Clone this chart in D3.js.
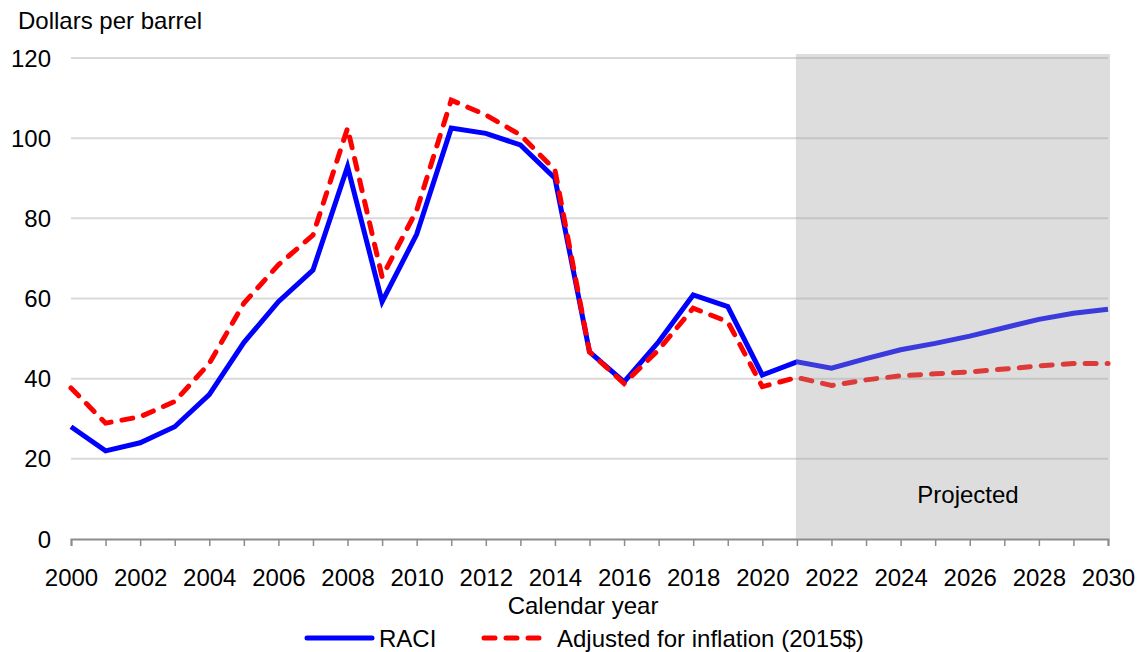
<!DOCTYPE html>
<html>
<head>
<meta charset="utf-8">
<script src="https://cdn.jsdelivr.net/npm/d3@7"></script>
<style>
  body { margin: 0; background: #fff; }
  text { font-family: "Liberation Sans", Arial, sans-serif; fill: #000; }
</style>
</head>
<body>
<div id="chart"></div>
<script>
// years 2000..2030
const years = d3.range(2000, 2031);
const raci = [28, 22, 24, 28, 36, 49, 59.2, 67.1, 92.9, 59.2, 76,
  102.5, 101.2, 98.3, 90, 46.7, 39.2, 49.2, 60.9, 58, 40.9,
  44.2, 42.6, 45, 47.2, 48.8, 50.6, 52.7, 54.8, 56.3, 57.3];
const adjusted = [37.7, 28.9, 30.5, 34.3, 43.8, 58.8, 68.4, 75.8, 102.5, 65.4, 82,
  109.5, 105.8, 100.8, 92.1, 46.7, 38.8, 47.2, 57.6, 54.2, 38,
  40.3, 38.3, 39.7, 40.7, 41.2, 41.7, 42.4, 43.2, 43.8, 43.8];
const yTicks = [0, 20, 40, 60, 80, 100, 120];
const projStart = 2021;

const width = 1137, height = 652;
const margin = { top: 58, right: 29, bottom: 113, left: 71 };
const fs = "24px";

const svg = d3.select("#chart").append("svg")
  .attr("width", width)
  .attr("height", height);

const x = d3.scaleLinear().domain([2000, 2030]).range([margin.left, width - margin.right]);
const y = d3.scaleLinear().domain([0, 120]).range([height - margin.bottom, margin.top]);

// gridlines
svg.append("g")
  .selectAll("line")
  .data(yTicks.filter(d => d > 0))
  .join("line")
  .attr("x1", x(2000)).attr("x2", x(2030))
  .attr("y1", d => y(d)).attr("y2", d => y(d))
  .attr("stroke", "#d9d9d9")
  .attr("stroke-width", 2);

// y tick labels
svg.append("g")
  .selectAll("text")
  .data(yTicks)
  .join("text")
  .attr("x", 51)
  .attr("y", d => y(d))
  .attr("dy", "0.36em")
  .attr("text-anchor", "end")
  .style("font-size", fs)
  .text(d => d);

svg.append("text")
  .attr("x", 18).attr("y", 29)
  .style("font-size", fs)
  .text("Dollars per barrel");

// x axis
const xAxis = d3.axisBottom(x)
  .tickValues(years)
  .tickSize(7)
  .tickFormat(d => (d % 2 === 0 ? d : ""));

const gx = svg.append("g")
  .attr("transform", `translate(0,${y(0)})`)
  .call(xAxis);
gx.select(".domain").attr("stroke", "#8c8c8c").attr("stroke-width", 2);
gx.selectAll(".tick line").attr("stroke", "#8c8c8c").attr("stroke-width", 1.5);
gx.selectAll(".tick text")
  .attr("y", 30)
  .style("font-size", fs)
  .style("font-family", "Liberation Sans, Arial, sans-serif")
  .attr("fill", "#000");

svg.append("text")
  .attr("x", 583).attr("y", 614)
  .attr("text-anchor", "middle")
  .style("font-size", fs)
  .text("Calendar year");

// lines
const line = d3.line()
  .x((d, i) => x(years[i]))
  .y(d => y(d));

svg.append("path")
  .datum(raci)
  .attr("fill", "none")
  .attr("stroke", "#0000ff")
  .attr("stroke-width", 5)
  .attr("d", line);

svg.append("path")
  .datum(adjusted)
  .attr("fill", "none")
  .attr("stroke", "#ff0000")
  .attr("stroke-width", 5)
  .attr("stroke-dasharray", "11,11")
  .attr("stroke-linecap", "round")
  .attr("d", line);

// projected shading drawn on top
svg.append("rect")
  .attr("x", x(projStart) - 1)
  .attr("y", margin.top - 4)
  .attr("width", x(2030) - x(projStart) + 3)
  .attr("height", y(0) - margin.top + 4)
  .attr("fill", "rgb(162,162,162)")
  .attr("fill-opacity", 0.36);

svg.append("text")
  .attr("x", 968).attr("y", 503)
  .attr("text-anchor", "middle")
  .style("font-size", fs)
  .text("Projected");

// legend
const lg = svg.append("g").attr("transform", "translate(0,638)");
lg.append("line")
  .attr("x1", 307).attr("x2", 372)
  .attr("stroke", "#0000ff").attr("stroke-width", 5).attr("stroke-linecap", "round");
lg.append("text").attr("x", 379).attr("dy", "0.36em").style("font-size", fs).text("RACI");
lg.append("line")
  .attr("x1", 484).attr("x2", 545)
  .attr("stroke", "#ff0000").attr("stroke-width", 5)
  .attr("stroke-dasharray", "11,11").attr("stroke-linecap", "round");
lg.append("text").attr("x", 557).attr("dy", "0.36em").style("font-size", fs)
  .text("Adjusted for inflation (2015$)");
</script>
</body>
</html>
